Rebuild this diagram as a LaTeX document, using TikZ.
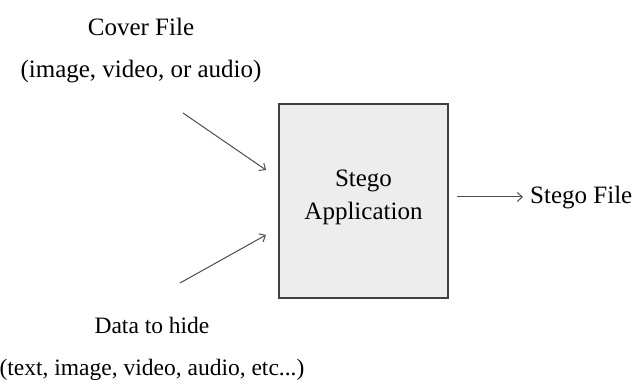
\documentclass[tikz,border=0pt]{standalone}
\usepackage{fontspec}
\setmainfont{Liberation Serif}
\usetikzlibrary{arrows.meta}

\begin{document}
\begin{tikzpicture}[%
      x=1pt, y=-1pt,
      >={Straight Barb[length=5pt,width=9pt]},
      label/.style={font=\fontsize{25}{29}\selectfont, align=center, inner sep=0pt},
      ]
      \useasboundingbox (0,0) rectangle (640,387);

      % the box in the middle
      \node [draw=black!75, line width=1.3pt, fill=black!7,
             minimum width=169pt, minimum height=194pt] (app) at (363.5,201) {};
      \node [label] (apptext) at (363.5,197) {Stego\\[4pt]Application};

      \node [label] (cover) at (141,51) {Cover File\\[13pt](image, video, or audio)};
      \node [label, font=\fontsize{23.5}{29}\selectfont] (data) at (152,349)
            {Data to hide\\[13pt](text, image, video, audio, etc...)};
      \node [label, anchor=west] (out) at (530,198) {Stego File};

      \coordinate (c1) at (183,113);
      \coordinate (c2) at (266,170);
      \coordinate (d1) at (180,283);
      \coordinate (d2) at (266,235);
      \coordinate (o1) at (457,197);
      \coordinate (o2) at (523,197);

      \draw [color=black!70, line width=1pt, ->] (c1) -- (c2);
      \draw [color=black!70, line width=1pt, ->] (d1) -- (d2);
      \draw [color=black!70, line width=1pt, ->] (o1) -- (o2);
      \end{tikzpicture}
\end{document}
